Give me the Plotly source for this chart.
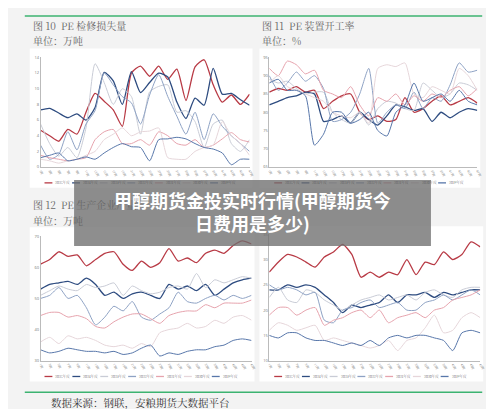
import plotly.graph_objects as go
from plotly.subplots import make_subplots

weeks = [f"{i}周" for i in range(1, 49, 2)]
years = ["2025年度", "2024年度", "2023年度", "2022年度", "2021年度", "2020年度", "2019年度"]
colors = ["#b83a45", "#2e4c80", "#c9ccd6", "#8ea2c4", "#e6a3ad", "#e6d6da", "#5877aa"]
widths = [1.3, 1.3, 1.0, 1.0, 1.0, 1.0, 1.0]

# 图10 PE检修损失量（万吨）
loss = [
    [4.7, 4.0, 3.3, 4.8, 4.2, 7.0, 9.4, 8.4, 7.3, 5.2, 12.0, 12.9, 11.6, 12.9, 11.2, 12.5, 8.5, 12.8, 13.7, 10.5, 8.3, 9.2, 8.0, 9.3],
    [7.3, 7.5, 6.9, 6.3, 6.8, 6.0, 7.6, 12.1, 11.0, 8.0, 12.2, 9.5, 10.8, 12.0, 11.5, 8.3, 6.2, 8.8, 7.9, 12.6, 9.3, 9.4, 8.6, 7.9],
    [5.5, 3.0, 1.4, 2.5, 1.2, 5.0, 13.2, 10.8, 8.0, 10.0, 9.0, 4.2, 9.6, 10.3, 10.5, 7.0, 7.2, 5.8, 2.5, 5.5, 6.0, 3.0, 2.0, 3.5],
    [2.8, 1.0, 1.6, 4.5, 2.2, 5.5, 7.2, 12.0, 10.5, 9.0, 8.2, 5.5, 9.2, 11.8, 9.0, 6.5, 4.2, 7.0, 3.5, 6.8, 5.2, 4.0, 3.0, 2.0],
    [1.5, 1.2, 1.0, 0.8, 1.0, 1.2, 3.5, 4.5, 4.8, 3.0, 3.0, 3.5, 2.8, 4.5, 4.0, 3.0, 2.8, 3.5, 2.5, 2.8, 3.6, 4.4, 3.5, 3.2],
    [1.0, 0.8, 0.5, 0.8, 1.0, 1.5, 2.0, 3.5, 4.2, 5.0, 4.0, 4.5, 4.6, 5.0, 1.2, 1.0, 1.0, 2.0, 2.5, 2.8, 5.8, 4.0, 3.0, 1.5],
    [1.2, 1.5, 1.8, 0.8, 1.0, 1.3, 1.0, 1.8, 2.5, 3.0, 2.6, 2.5, 0.8, 3.5, 3.6, 3.8, 3.6, 3.0, 2.5, 2.3, 1.8, 0.3, 1.0, 1.0],
]
# 图11 PE装置开工率（%）
rate = [
    [85.5, 86.5, 86.0, 87.0, 85.5, 86.0, 81.0, 83.0, 84.5, 85.0, 80.0, 78.0, 79.0, 77.5, 78.0, 84.0, 80.0, 81.0, 83.0, 84.5, 82.0, 83.0, 84.0, 82.5],
    [82.0, 83.0, 84.0, 84.5, 85.5, 85.0, 77.5, 78.0, 79.0, 77.0, 80.0, 78.0, 76.5, 79.0, 82.0, 81.5, 80.5, 81.0, 77.5, 80.0, 78.5, 80.0, 81.0, 80.5],
    [89.0, 88.0, 88.5, 86.5, 85.0, 85.5, 85.5, 80.0, 78.0, 77.0, 80.0, 76.5, 81.0, 83.0, 82.5, 81.0, 80.5, 88.0, 86.0, 84.0, 85.0, 88.0, 87.5, 86.0],
    [90.0, 86.0, 88.0, 91.0, 88.5, 90.0, 86.5, 77.5, 78.0, 80.0, 85.0, 92.0, 77.0, 80.0, 82.0, 81.0, 85.5, 81.0, 84.0, 83.0, 87.5, 93.5, 91.0, 91.5],
    [92.0, 90.0, 94.0, 93.0, 90.5, 91.5, 86.0, 85.0, 84.0, 87.0, 82.0, 79.0, 84.0, 83.0, 85.0, 82.0, 84.5, 83.0, 85.0, 84.0, 86.0, 87.0, 84.5, 86.5],
    [88.0, 90.0, 87.0, 86.0, 85.0, 84.0, 83.0, 80.0, 79.0, 78.5, 80.0, 77.0, 92.0, 93.0, 92.5, 93.5, 85.0, 84.0, 87.0, 86.0, 85.0, 92.0, 90.0, 86.0],
    [88.0, 89.0, 86.0, 86.0, 84.5, 71.0, 74.0, 80.0, 80.0, 77.0, 78.0, 80.0, 75.0, 73.5, 80.0, 82.0, 88.0, 83.0, 84.0, 85.0, 83.0, 86.0, 83.0, 82.0],
]
# 图12 PE生产企业产量（万吨）
output = [
    [61.0, 62.5, 65.0, 63.5, 64.0, 60.5, 62.5, 64.5, 65.0, 61.0, 59.0, 62.0, 60.0, 61.5, 66.0, 62.0, 63.0, 61.5, 64.5, 65.5, 64.5, 67.0, 68.5, 67.5],
    [53.0, 54.5, 55.0, 55.5, 54.5, 56.5, 54.5, 51.0, 52.0, 50.0, 51.5, 52.0, 51.0, 50.0, 54.5, 53.0, 54.0, 52.5, 54.5, 51.0, 53.0, 55.0, 56.0, 56.5],
    [51.0, 52.5, 54.0, 53.0, 52.5, 54.5, 53.5, 54.0, 55.0, 51.0, 54.0, 52.5, 51.5, 52.0, 53.5, 54.0, 53.0, 58.0, 53.5, 56.0, 55.0, 56.0, 57.0, 56.5],
    [50.0, 51.0, 53.5, 50.0, 51.0, 47.0, 41.5, 44.0, 47.5, 46.0, 49.0, 44.0, 43.0, 45.0, 47.0, 52.0, 49.0, 48.5, 50.0, 51.0, 49.5, 51.0, 50.0, 51.0],
    [44.5, 45.5, 45.5, 44.0, 44.5, 43.5, 41.0, 40.5, 42.5, 44.0, 45.0, 45.0, 43.5, 42.0, 44.5, 45.5, 46.0, 46.0, 48.0, 47.0, 48.5, 48.5, 48.5, 49.5],
    [36.0, 37.5, 35.5, 38.0, 37.0, 37.5, 36.5, 35.0, 34.5, 35.0, 34.0, 35.5, 34.5, 39.0, 40.0, 40.5, 42.0, 40.5, 41.0, 43.0, 42.0, 44.0, 44.5, 43.0],
    [33.5, 32.5, 33.0, 34.0, 33.5, 33.0, 33.0, 32.5, 33.0, 32.0, 32.5, 34.0, 35.0, 31.5, 32.5, 32.0, 33.0, 33.5, 33.5, 34.5, 35.0, 36.5, 37.0, 36.5],
]
# 图13 PE企业产量（万吨）
output2 = [
    [27.5, 29.5, 31.0, 30.5, 29.5, 28.5, 30.5, 31.5, 33.0, 31.0, 26.5, 27.5, 26.5, 27.5, 27.0, 30.0, 27.0, 29.5, 29.0, 31.5, 30.0, 31.0, 33.5, 32.5],
    [24.0, 24.0, 25.0, 24.5, 25.0, 24.5, 23.0, 21.5, 19.5, 21.0, 20.5, 21.0, 21.5, 23.0, 21.5, 23.0, 23.0, 23.5, 22.5, 23.5, 23.0, 23.5, 24.0, 24.0],
    [22.5, 24.5, 22.0, 21.5, 24.0, 23.5, 22.0, 21.0, 20.0, 21.0, 22.0, 22.5, 23.0, 22.0, 22.5, 23.0, 22.0, 23.5, 24.0, 23.0, 22.5, 24.0, 24.5, 24.5],
    [25.0, 24.0, 24.5, 24.0, 23.0, 23.5, 18.0, 17.5, 20.0, 20.5, 21.5, 22.0, 20.5, 21.0, 21.5, 20.0, 20.0, 21.5, 22.0, 23.0, 22.0, 23.0, 24.0, 23.0],
    [19.0, 20.5, 20.5, 19.0, 20.0, 20.5, 17.0, 18.0, 18.5, 19.5, 20.0, 18.5, 20.0, 17.5, 18.5, 19.0, 19.5, 18.5, 20.0, 20.5, 22.0, 22.5, 23.0, 24.0],
    [16.0, 17.5, 17.0, 16.0, 16.5, 17.0, 14.0, 14.5, 14.0, 13.5, 13.0, 12.5, 13.0, 14.0, 12.0, 14.0, 14.5, 16.5, 19.0, 15.5, 16.0, 18.5, 19.5, 18.5],
    [15.0, 14.5, 15.5, 15.5, 14.5, 14.0, 14.0, 13.5, 13.0, 13.5, 13.0, 14.0, 13.0, 14.5, 15.0, 14.5, 15.0, 15.0, 14.5, 14.0, 12.0, 15.5, 16.0, 15.5],
]

fig = make_subplots(rows=2, cols=2, horizontal_spacing=0.05, vertical_spacing=0.1)
panels = [(loss, 1, 1, [0, 14], 2), (rate, 1, 2, [65, 95], 5),
          (output, 2, 1, [30, 70], 10), (output2, 2, 2, [10, 35], 5)]
for data, r, c, rng, dt in panels:
    for i, ys in enumerate(data):
        fig.add_trace(go.Scatter(x=weeks, y=ys, mode="lines", name=years[i],
                                 line=dict(color=colors[i], width=widths[i], shape="spline", smoothing=0.6),
                                 showlegend=False), row=r, col=c)
    fig.update_yaxes(range=rng, dtick=dt, row=r, col=c)

fig.update_xaxes(tickangle=60, tickfont=dict(size=3, color="#777"), showgrid=False,
                 showline=True, linecolor="#bbb", linewidth=0.5, ticks="")
fig.update_yaxes(tickfont=dict(size=4, color="#777"), showgrid=False,
                 showline=True, linecolor="#bbb", linewidth=0.5, ticks="")

# subplot domains in px -> paper
W, H = 494, 409
def dom(x0, x1, y0, y1):
    return [x0 / W, x1 / W], [1 - y1 / H, 1 - y0 / H]
boxes = {"": (31, 243, 47, 158), "2": (263, 474, 47, 158),
         "3": (31, 245, 228, 354), "4": (263, 477, 226, 354)}
for k, (x0, x1, y0, y1) in boxes.items():
    xd, yd = dom(x0, x1, y0, y1)
    fig.layout["xaxis" + k].domain = xd
    fig.layout["yaxis" + k].domain = yd

shapes = []
cards = [(20, 246, 38, 179), (253, 477, 38, 179), (20, 248, 219, 375), (253, 480, 218, 375)]
for x0, x1, y0, y1 in cards:
    shapes.append(dict(type="rect", xref="paper", yref="paper", layer="below",
                       x0=x0 / W, x1=x1 / W, y0=1 - y1 / H, y1=1 - y0 / H,
                       fillcolor="white", line=dict(width=0)))
for y in (5, 386):
    shapes.append(dict(type="line", xref="paper", yref="paper", x0=15 / W, x1=479 / W,
                       y0=1 - y / H, y1=1 - y / H, line=dict(color="#3cb371", width=1.5)))

ann = []
def text(x, y, s, size=10, color="#666", **kw):
    ann.append(dict(x=x / W, y=1 - y / H, xref="paper", yref="paper", text=s, showarrow=False,
                    xanchor="left", yanchor="middle", font=dict(size=size, color=color,
                    family="Noto Serif CJK SC, Noto Sans CJK SC"), **kw))
text(21, 15, "图 10  PE 检修损失量")
text(21, 30, "单位：万吨")
text(254, 15, "图 11  PE 装置开工率")
text(254, 30, "单位：%")
text(21, 196, "图 12  PE 生产企业产量")
text(21, 212, "单位：万吨")
text(40, 396, "数据来源：钢联，安粮期货大数据平台", size=10.5, color="#333")

# legends under each card
for x0, x1, y0, y1 in cards:
    step = (x1 - x0 - 30) / 7
    for i, yr in enumerate(years):
        lx = x0 + 15 + i * step
        shapes.append(dict(type="line", xref="paper", yref="paper", x0=lx / W, x1=(lx + 8) / W,
                           y0=1 - (y1 - 5) / H, y1=1 - (y1 - 5) / H,
                           line=dict(color=colors[i], width=1.3)))
        text(lx + 9, y1 - 5, yr, size=3.5, color="#555")

# overlay banner
shapes.append(dict(type="rect", xref="paper", yref="paper", x0=65 / W, x1=427 / W,
                   y0=1 - 238 / H, y1=1 - 171 / H, fillcolor="rgba(110,110,110,0.78)",
                   line=dict(width=0)))
ann.append(dict(x=246 / W, y=1 - 203 / H, xref="paper", yref="paper", showarrow=False,
                text="<b>甲醇期货金投实时行情(甲醇期货今<br>日费用是多少)</b>",
                font=dict(size=18, color="white", family="Noto Sans CJK SC"),
                align="center", xanchor="center", yanchor="middle"))

fig.update_layout(width=W, height=H, margin=dict(l=0, r=0, t=0, b=0),
                  paper_bgcolor="#f3f3f3", plot_bgcolor="white",
                  shapes=shapes, annotations=ann)
fig.write_html("out.html")
